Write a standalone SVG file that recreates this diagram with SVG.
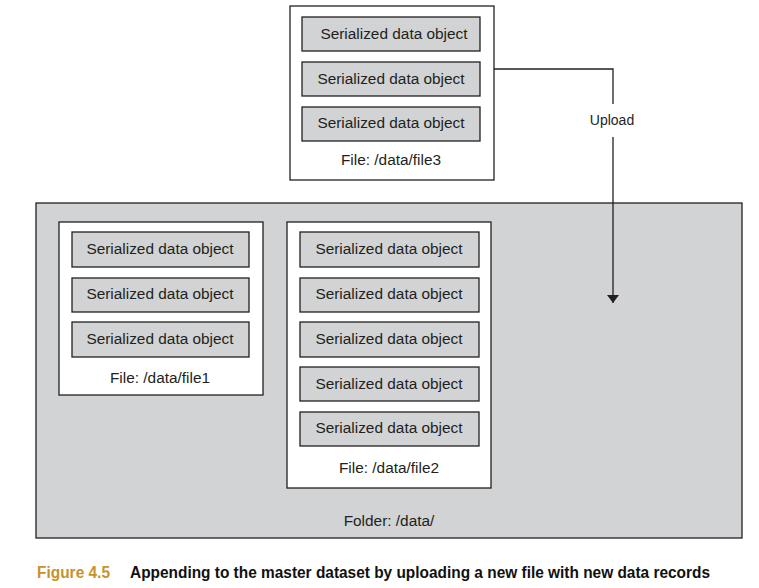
<svg xmlns="http://www.w3.org/2000/svg" width="759" height="588" viewBox="0 0 759 588">
<style>
.bg{fill:#ffffff}
.folder{fill:#d1d3d4;stroke:#231f20;stroke-width:1.3}
.file{fill:#ffffff;stroke:#231f20;stroke-width:1.3}
.obj{fill:#d1d3d4;stroke:#231f20;stroke-width:1.3}
.t{font-family:"Liberation Sans",Arial,sans-serif;font-size:15.4px;fill:#231f20;text-anchor:middle}
.conn{fill:none;stroke:#231f20;stroke-width:1.3}
.cap{font-family:"Liberation Sans",Arial,sans-serif;font-size:16px;font-weight:bold}
</style>
<defs>
<marker id="arr" viewBox="0 0 8 12" refX="8" refY="6" markerWidth="8" markerHeight="12" markerUnits="userSpaceOnUse" orient="auto">
<path d="M0,0 L8,6 L0,12 Z" fill="#231f20"/>
</marker>
</defs>
<rect class="bg" x="0" y="0" width="759" height="588"/>
<g id="folder">
<rect class="folder" x="36" y="203" width="706" height="335"/>
<text class="t" x="389" y="526">Folder: /data/</text>
</g>
<g id="file3">
<rect class="file" x="290" y="6" width="204" height="174"/>
<rect class="obj" x="302" y="17" width="178" height="34"/>
<text class="t" x="394" y="39">Serialized data object</text>
<rect class="obj" x="302" y="62" width="178" height="34"/>
<text class="t" x="391" y="84">Serialized data object</text>
<rect class="obj" x="302" y="107" width="178" height="34"/>
<text class="t" x="391" y="128">Serialized data object</text>
<text class="t" x="391" y="165">File: /data/file3</text>
</g>
<g id="file1">
<rect class="file" x="59" y="222" width="204" height="173"/>
<rect class="obj" x="72" y="232" width="177" height="35"/>
<text class="t" x="160" y="254">Serialized data object</text>
<rect class="obj" x="72" y="278" width="177" height="34"/>
<text class="t" x="160" y="299">Serialized data object</text>
<rect class="obj" x="72" y="322" width="177" height="35"/>
<text class="t" x="160" y="344">Serialized data object</text>
<text class="t" x="160" y="383">File: /data/file1</text>
</g>
<g id="file2">
<rect class="file" x="287" y="222" width="204" height="266"/>
<rect class="obj" x="300" y="232" width="179" height="35"/>
<text class="t" x="389" y="254">Serialized data object</text>
<rect class="obj" x="300" y="278" width="179" height="34"/>
<text class="t" x="389" y="299">Serialized data object</text>
<rect class="obj" x="300" y="322" width="179" height="35"/>
<text class="t" x="389" y="344">Serialized data object</text>
<rect class="obj" x="300" y="367" width="179" height="34"/>
<text class="t" x="389" y="389">Serialized data object</text>
<rect class="obj" x="300" y="412" width="179" height="34"/>
<text class="t" x="389" y="433">Serialized data object</text>
<text class="t" x="389" y="473">File: /data/file2</text>
</g>
<g id="connectors">
<path class="conn" d="M494,69 H613 V104"/>
<path class="conn" d="M613,137 V303" marker-end="url(#arr)"/>
<text class="t" x="612" y="125" style="font-size:14px">Upload</text>
</g>
<g id="caption">
<text class="cap" x="37" y="578" fill="#c8922a" textLength="73" lengthAdjust="spacingAndGlyphs">Figure 4.5</text>
<text class="cap" x="130" y="578" fill="#111111" textLength="580" lengthAdjust="spacingAndGlyphs">Appending to the master dataset by uploading a new file with new data records</text>
</g>
</svg>
